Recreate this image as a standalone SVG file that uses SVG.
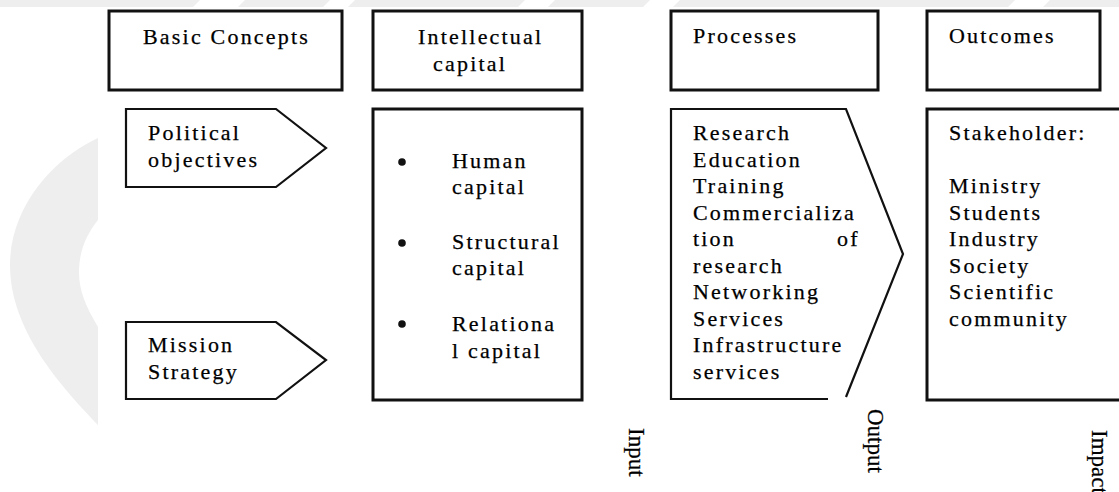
<svg xmlns="http://www.w3.org/2000/svg" width="1119" height="492" viewBox="0 0 1119 492">
  <style>
    .t { font-family: "Liberation Serif", "Times New Roman", serif; font-size: 22px; letter-spacing: 2.2px; fill: #000; stroke: #000; stroke-width: 0.25; }
    .r { font-family: "Liberation Serif", "Times New Roman", serif; font-size: 23px; fill: #000; stroke: #000; stroke-width: 0.25; }
    .box { fill: #fff; stroke: #111; stroke-width: 3; }
    .shape { fill: #fff; stroke: #111; stroke-width: 2.2; }
    .line { fill: none; stroke: #111; stroke-width: 2.2; }
    .wm { fill: #eeeeee; }
  </style>
  <rect x="0" y="0" width="1119" height="492" fill="#fff"/>
  <g id="watermark">
    <path class="wm" d="M98,138 C50,160 10,210 10,265 C10,330 60,385 98,425 L98,327 C85,305 79,290 79,272 C79,252 86,235 98,220 Z"/>
    <polygon class="wm" points="0,0 200,0 193,7 0,7"/>
    <polygon class="wm" points="245,0 330,0 323,7 238,7"/>
    <polygon class="wm" points="355,0 525,0 518,7 348,7"/>
    <polygon class="wm" points="555,0 650,0 643,7 548,7"/>
    <polygon class="wm" points="680,0 1015,0 1008,7 673,7"/>
    <polygon class="wm" points="1050,0 1119,0 1119,7 1043,7"/>
  </g>

  <g id="basic-concepts">
    <rect class="box" x="109" y="11" width="233" height="79"/>
    <text class="t" x="143" y="44">Basic Concepts</text>
  </g>
  <g id="intellectual-capital-header">
    <rect class="box" x="373" y="11" width="209" height="79"/>
    <text class="t" x="418" y="44">Intellectual</text>
    <text class="t" x="433" y="71">capital</text>
  </g>
  <g id="processes-header">
    <rect class="box" x="671" y="11" width="207" height="79"/>
    <text class="t" x="693" y="43">Processes</text>
  </g>
  <g id="outcomes-header">
    <rect class="box" x="927" y="11" width="173" height="79"/>
    <text class="t" x="949" y="43">Outcomes</text>
  </g>

  <g id="political-objectives">
    <polygon class="shape" points="126,109 276,109 326,148 276,187 126,187"/>
    <text class="t" x="148" y="140">Political</text>
    <text class="t" x="148" y="167">objectives</text>
  </g>
  <g id="mission-strategy">
    <polygon class="shape" points="126,322 276,322 326,360 276,399 126,399"/>
    <text class="t" x="148" y="352">Mission</text>
    <text class="t" x="148" y="379">Strategy</text>
  </g>

  <g id="intellectual-capital">
    <rect class="box" x="373" y="109" width="209" height="291"/>
    <circle cx="402" cy="162" r="3.8" fill="#111"/>
    <circle cx="402" cy="243" r="3.8" fill="#111"/>
    <circle cx="402" cy="324" r="3.8" fill="#111"/>
    <text class="t" x="452" y="168">Human</text>
    <text class="t" x="452" y="194">capital</text>
    <text class="t" x="452" y="249">Structural</text>
    <text class="t" x="452" y="275">capital</text>
    <text class="t" x="452" y="331">Relationa</text>
    <text class="t" x="452" y="358">l capital</text>
  </g>

  <g id="processes">
    <polyline class="line" points="828,399 671,399 671,109 846,109 903,254 846,397"/>
    <text class="t" x="693" y="140">Research</text>
    <text class="t" x="693" y="166.5">Education</text>
    <text class="t" x="693" y="193">Training</text>
    <text class="t" x="693" y="219.5">Commercializa</text>
    <text class="t" x="693" y="246">tion</text>
    <text class="t" x="837" y="246">of</text>
    <text class="t" x="693" y="272.5">research</text>
    <text class="t" x="693" y="299">Networking</text>
    <text class="t" x="693" y="325.5">Services</text>
    <text class="t" x="693" y="352">Infrastructure</text>
    <text class="t" x="693" y="378.5">services</text>
  </g>

  <g id="outcomes">
    <rect class="box" x="927" y="109" width="200" height="291"/>
    <text class="t" x="949" y="140">Stakeholder:</text>
    <text class="t" x="949" y="193">Ministry</text>
    <text class="t" x="949" y="219.5">Students</text>
    <text class="t" x="949" y="246">Industry</text>
    <text class="t" x="949" y="272.5">Society</text>
    <text class="t" x="949" y="299">Scientific</text>
    <text class="t" x="949" y="325.5">community</text>
  </g>

  <g id="connectors"></g>

  <g id="stage-labels">
    <text class="r" transform="translate(629,428) rotate(90)">Input</text>
    <text class="r" transform="translate(868,409) rotate(90)">Output</text>
    <text class="r" transform="translate(1092,430) rotate(90)">Impact</text>
  </g>
</svg>
